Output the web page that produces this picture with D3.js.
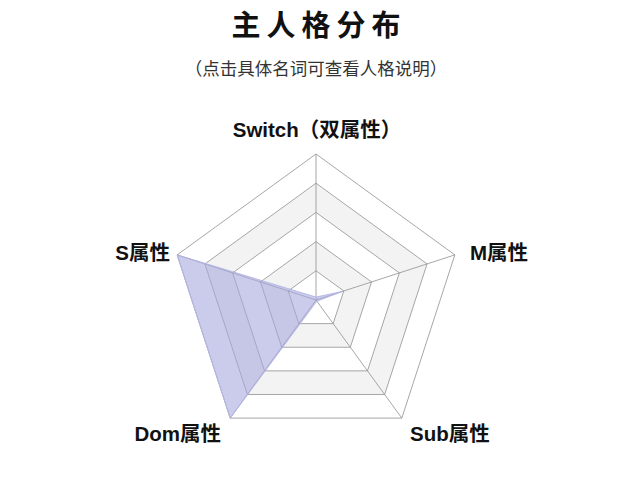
<!DOCTYPE html>
<html>
<head>
<meta charset="utf-8">
<script src="https://cdn.jsdelivr.net/npm/d3@7"></script>
<style>
  body { margin: 0; background: #fff; }
  text { font-family: "Liberation Sans", "Noto Sans CJK SC", sans-serif; }
</style>
</head>
<body>
<div id="chart"></div>
<script>
// radar data
var axes = ["Switch（双属性）", "M属性", "Sub属性", "Dom属性", "S属性"];
var values = [2, 19, 1, 100, 100];
var maxValue = 100;
var levels = [1, 2, 3, 4, 5];

const width = 638, height = 498;
const cx = 316, cy = 300, R = 146;

var svg = d3.select("#chart").append("svg")
    .attr("width", width)
    .attr("height", height);

var rScale = d3.scaleLinear().domain([0, maxValue]).range([0, R]);
var angle = d3.scaleLinear().domain([0, axes.length]).range([0, 2 * Math.PI]);

function pt(i, r) {
    var a = angle(i);
    return [cx + r * Math.sin(a), cy - r * Math.cos(a)];
}

// title
svg.append("text")
    .attr("x", cx + 3).attr("y", 36)
    .attr("text-anchor", "middle")
    .style("font-size", "29px")
    .style("font-weight", "bold")
    .style("letter-spacing", "6px")
    .style("fill", "#111")
    .text("主人格分布");

svg.append("text")
    .attr("x", cx).attr("y", 75)
    .attr("text-anchor", "middle")
    .style("font-size", "17.5px")
    .style("fill", "#333")
    .text("（点击具体名词可查看人格说明）");

// split areas, outermost first
var ringFill = ["#ffffff", "#f3f3f3", "#ffffff", "#f3f3f3", "#ffffff"];
var ring = d3.line();
levels.slice().reverse().forEach(function(l) {
    var r = R * l / levels.length;
    var pts = axes.map(function(d, i) { return pt(i, r); });
    pts.push(pts[0]);
    svg.append("path")
        .attr("d", ring(pts))
        .style("fill", ringFill[l - 1])
        .style("stroke", "#909090")
        .style("stroke-width", 0.8);
});

// spokes
svg.selectAll(".spoke")
    .data(axes)
    .enter().append("line")
    .attr("class", "spoke")
    .attr("x1", cx).attr("y1", cy)
    .attr("x2", function(d, i) { return pt(i, R)[0]; })
    .attr("y2", function(d, i) { return pt(i, R)[1]; })
    .style("stroke", "#909090")
    .style("stroke-width", 0.8);

// data polygon
var dataPts = values.map(function(v, i) { return pt(i, rScale(v)); });
dataPts.push(dataPts[0]);
svg.append("path")
    .attr("d", ring(dataPts))
    .style("fill", "rgba(165,165,222,0.58)")
    .style("stroke", "rgba(180,182,232,0.9)")
    .style("stroke-width", 1);

// axis labels
var labelPos = [
    {x: cx + 1, y: 137, anchor: "middle"},
    {x: 470, y: 260, anchor: "start"},
    {x: 410, y: 441, anchor: "start"},
    {x: 221, y: 441, anchor: "end"},
    {x: 170, y: 260, anchor: "end"}
];
svg.selectAll(".axisLabel")
    .data(axes)
    .enter().append("text")
    .attr("class", "axisLabel")
    .attr("x", function(d, i) { return labelPos[i].x; })
    .attr("y", function(d, i) { return labelPos[i].y; })
    .attr("text-anchor", function(d, i) { return labelPos[i].anchor; })
    .style("font-size", "20.5px")
    .style("font-weight", "bold")
    .style("fill", "#111")
    .text(function(d) { return d; });
</script>
</body>
</html>
